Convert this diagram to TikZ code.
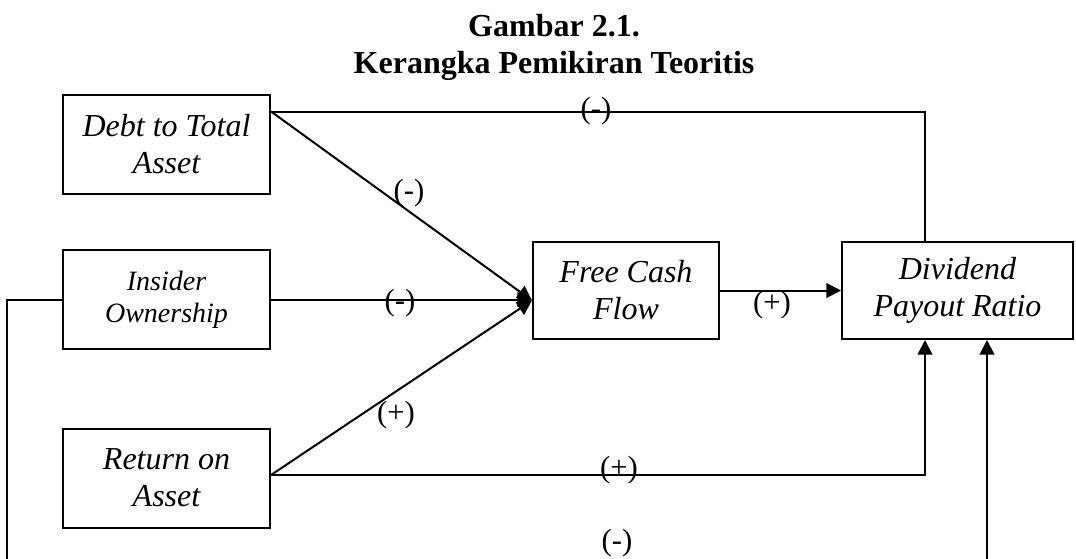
\documentclass[tikz,border=0pt]{standalone}
\usepackage{fontspec}
\setmainfont{Liberation Serif}
\usetikzlibrary{arrows.meta,calc}

\tikzset{
  box/.style={draw, line width=1.5pt, inner sep=0pt, align=center,
    font=\fontsize{24}{27.75}\selectfont\itshape},
  leftbox/.style={box, minimum width=155.25pt, minimum height=74.25pt},
  midbox/.style={box, minimum width=139.5pt, minimum height=72.75pt},
  rightbox/.style={box, minimum width=173.25pt, minimum height=72.75pt},
  link/.style={line width=1.5pt},
  arr/.style={link, -{Triangle[length=11pt,width=11pt]}},
  sign/.style={inner sep=0pt, font=\fontsize{23}{26}\selectfont},
  heading/.style={inner sep=0pt, anchor=base, font=\fontsize{24}{27.75}\selectfont\bfseries},
}

\begin{document}
\begin{tikzpicture}[x=0.75pt, y=-0.75pt]
  \path[use as bounding box, clip] (0,0) rectangle (1076,558);

  % heading
  \node[heading] (title) at (554,36) {Gambar 2.1.};
  \node[heading] (subtitle) at (554,73) {Kerangka Pemikiran Teoritis};

  % variables
  \node[leftbox] (dta) at (166.5,144) {Debt to Total\\Asset};
  \node[leftbox, font=\fontsize{21}{24}\selectfont\itshape] (ins) at (166.5,299.5) {Insider\\Ownership};
  \node[leftbox] (roa) at (166.5,478) {Return on\\Asset};
  \node[midbox] (fcf) at (626,290.5) {Free Cash\\Flow};
  \node[rightbox] (dpr) at (957.5,290.5) {Dividend\\Payout Ratio};

  % connection points
  \coordinate (dtaout) at ($(dta.north east)+(0,18)$);
  \coordinate (roaout) at ($(roa.east)+(0,-3)$);
  \coordinate (fcfin) at ($(fcf.west)+(0,10)$);
  \coordinate (dprtop) at ($(dpr.north west)+(84,0)$);
  \coordinate (dprbot) at ($(dpr.south west)+(84,0)$);
  \coordinate (dprbot2) at ($(dpr.south west)+(146,0)$);

  % connectors
  \draw[link] (dtaout) -| (dprtop);
  \draw[arr] (dtaout) -- (fcfin);
  \draw[arr] (ins.east) -- (ins.east -| fcf.west);
  \draw[arr] (roaout) -- (fcfin);
  \draw[arr] (fcf.east) -- (dpr.west);
  \draw[arr] (roaout) -| (dprbot);
  \draw[arr] (ins.west) -- ++(-55,0) -- ++(0,300) -| (dprbot2);

  % signs
  \node[sign] (s1) at (596,111) {(-)};
  \node[sign] (s2) at (409,193) {(-)};
  \node[sign] (s3) at (400,303) {(-)};
  \node[sign] (s4) at (772,305) {(+)};
  \node[sign] (s5) at (396,415) {(+)};
  \node[sign] (s6) at (619,470) {(+)};
  \node[sign] (s7) at (617,543) {(-)};
\end{tikzpicture}
\end{document}
